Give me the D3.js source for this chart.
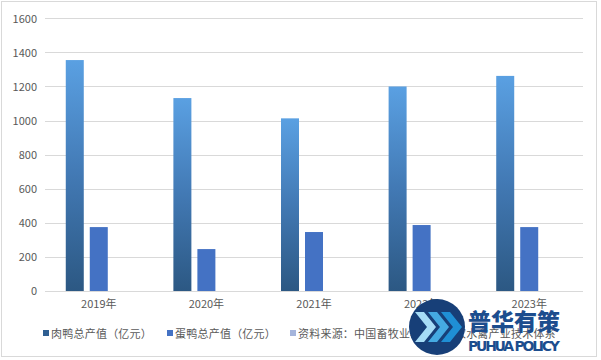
<!DOCTYPE html>
<html><head><meta charset="utf-8">
<script src="https://cdn.jsdelivr.net/npm/d3@7"></script>
<style>body{margin:0;background:#fff}svg{display:block;font-family:"Microsoft YaHei","Noto Sans CJK SC",sans-serif}</style>
</head><body><svg id="c" width="601" height="360"></svg>
<script>
const years = ["2019年","2020年","2021年","2022年","2023年"];
const seriesNames = ["肉鸭总产值（亿元）","蛋鸭总产值（亿元）","资料来源：中国畜牧业年鉴、国家水禽产业技术体系"];
const meatValues = [1355, 1132, 1013, 1200, 1262];
const eggValues = [375, 246, 346, 387, 375];
const sourceValues = [null, null, null, null, null];
const yTicks = [0,200,400,600,800,1000,1200,1400,1600];

(function(){
const svg = d3.select("#c");
svg.append("rect").attr("x",1.5).attr("y",1.5).attr("width",595).attr("height",355)
  .attr("fill","#fff").attr("stroke","#d9d9d9");

const defs = svg.append("defs");
const g = defs.append("linearGradient").attr("id","meatGrad").attr("x1",0).attr("y1",0).attr("x2",0).attr("y2",1);
g.append("stop").attr("offset","0%").attr("stop-color","#5aa0e2");
g.append("stop").attr("offset","50%").attr("stop-color","#4279b4");
g.append("stop").attr("offset","100%").attr("stop-color","#2c5883");

const pL=45, pR=583, pT=18.3, pB=291;
const y = d3.scaleLinear().domain([0,1600]).range([pB, pT]);
const x0 = d3.scaleBand().domain(years).range([pL,pR]).paddingInner(0.3866).paddingOuter(0.193);
const x1 = d3.scaleBand().domain([0,1,2]).range([0,x0.bandwidth()]).paddingInner(0.25);

// gridlines
svg.append("g").selectAll("line").data(yTicks).join("line")
  .attr("x1",pL).attr("x2",pR).attr("y1",d=>Math.round(y(d))+0.5).attr("y2",d=>Math.round(y(d))+0.5)
  .attr("stroke","#d9d9d9").attr("stroke-width",1);

// y labels
const yAxis = d3.axisLeft(y).tickValues(yTicks).tickSize(0).tickPadding(0).tickFormat(d3.format("d"));
const ya = svg.append("g").attr("transform",`translate(${pL-8},0)`).call(yAxis);
ya.select(".domain").remove();
ya.selectAll("text").attr("fill","#595959").attr("font-size","11px").attr("font-family","'Microsoft YaHei','Noto Sans CJK SC',sans-serif").attr("dy","0.35em");

// bars
const data = [meatValues, eggValues, sourceValues];
const fills = ["url(#meatGrad)","#4472c4","#a5b5dc"];
data.forEach((vals,si)=>{
  svg.append("g").selectAll("rect").data(vals.map((v,i)=>({v,yr:years[i]})).filter(d=>d.v!=null)).join("rect")
    .attr("x",d=>x0(d.yr)+x1(si)).attr("width",x1.bandwidth())
    .attr("y",d=>y(d.v)).attr("height",d=>pB-y(d.v))
    .attr("fill",fills[si]);
});

// x labels
const xAxis = d3.axisBottom(x0).tickSize(0).tickPadding(9);
const xa = svg.append("g").attr("transform",`translate(0,${pB})`).call(xAxis);
xa.select(".domain").remove();
xa.selectAll("text").attr("fill","#595959").attr("font-size","11px").attr("font-family","'Microsoft YaHei','Noto Sans CJK SC',sans-serif");

// legend
const legX = [43,167,290];
const legColors = ["#2f5f92","#4472c4","#a5b5dc"];
const leg = svg.append("g");
seriesNames.forEach((n,i)=>{
  leg.append("rect").attr("x",legX[i]).attr("y",330).attr("width",6).attr("height",6).attr("fill",legColors[i]);
  leg.append("text").attr("x",legX[i]+8).attr("y",337.5).text(n)
    .attr("fill","#595959").attr("font-size","11px")
    .attr("textLength", n.length*11.2).attr("lengthAdjust","spacing");
});

// watermark
const wm = svg.append("g");
wm.append("circle").attr("cx",437).attr("cy",327).attr("r",28).attr("fill","#173f78");
const chev = (cx,col)=>wm.append("path")
  .attr("d",`M${cx-9},${312} L${cx},${312} L${cx+12},${327} L${cx},${342} L${cx-9},${342} L${cx+3},${327} Z`)
  .attr("fill",col);
chev(424,"#a6dcf6"); chev(437,"#45aae2"); chev(450,"#1f8fd5");
wm.append("text").attr("x",468).attr("y",330).text("普华有策").attr("font-size","23px").attr("font-weight","900")
  .attr("fill","#1c4d8e").attr("textLength",92).attr("font-family","'Noto Sans CJK SC',sans-serif");
wm.append("text").attr("x",468).attr("y",351).text("PUHUA POLICY").attr("font-size","14px").attr("font-weight","700")
  .attr("fill","#1c4d8e").attr("textLength",92).attr("font-family","'DejaVu Sans',sans-serif");
})();
</script></body></html>
